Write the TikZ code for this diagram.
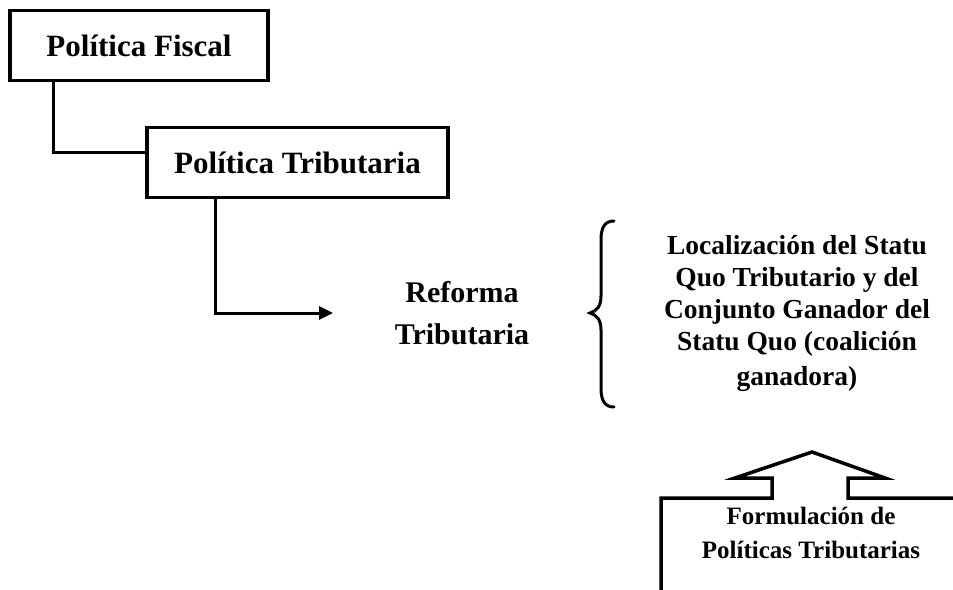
\documentclass[tikz,border=0pt]{standalone}
\usepackage{fontspec}
\setmainfont{Liberation Serif}
\usetikzlibrary{arrows.meta}
\begin{document}
\begin{tikzpicture}[x=1pt,y=-1pt,
  box/.style={draw,line width=3.5pt,minimum width=#1,minimum height=70pt,inner sep=0pt,font=\fontsize{31}{36}\selectfont\bfseries},
  conn/.style={line width=3pt},
  txt/.style={align=center,inner sep=0pt}]
\useasboundingbox (0,0) rectangle (953,589);
\node[box=258pt] (fiscal) at (139,45.5) {Política Fiscal};
\node[box=301pt] (trib) at (297.5,162.5) {Política Tributaria};
\node[txt,font=\fontsize{30}{42}\selectfont\bfseries] (reforma) at (462,313) {Reforma\\Tributaria};
\node[txt,font=\fontsize{27.5}{32}\selectfont\bfseries] (loc) at (797,313) {Localización del Statu\\Quo Tributario y del\\Conjunto Ganador del\\Statu Quo (coalición\\[3pt]ganadora)};
\node[txt,font=\fontsize{25}{34}\selectfont\bfseries] (form) at (811,533) {Formulación de\\Políticas Tributarias};
\coordinate (rtip) at (333,313);
\draw[conn] (fiscal.south west) ++(45,0) |- ([yshift=10pt]trib.west);
\draw[conn,-{Triangle[length=14pt,width=13pt]}] (trib.south west) ++(70,0) |- (rtip);
% brace
\draw[line width=3pt,line cap=round] (614,221) .. controls (605,221) and (601,227) .. (601,240)
  -- (601,296) .. controls (601,306) and (597,311) .. (590,313)
  .. controls (597,315) and (601,320) .. (601,330)
  -- (601,388) .. controls (601,401) and (605,407) .. (614,407);
% bottom arrow box
\draw[line width=3.5pt,line join=miter] (661,600) -- (661,498) -- (772,498) -- (772,478) -- (735,478)
  -- (812,452) -- (885,478) -- (848,478) -- (848,498) -- (960,498);
\end{tikzpicture}
\end{document}
